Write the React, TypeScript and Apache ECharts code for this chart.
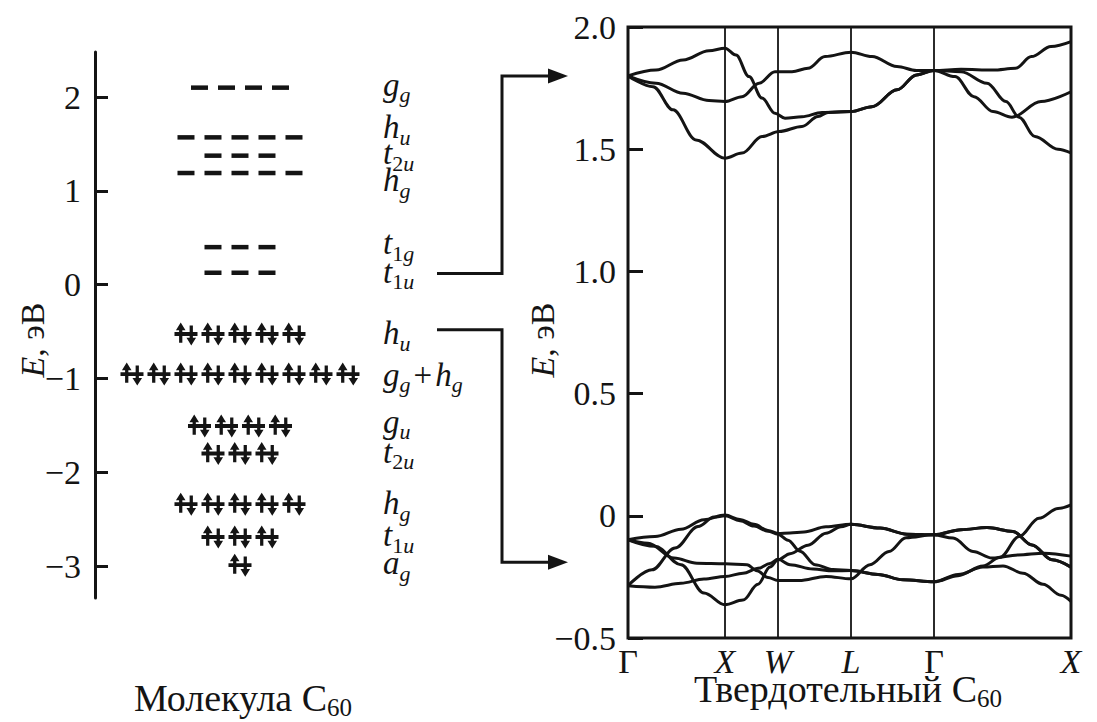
import React, { useEffect, useRef } from 'react';
import * as echarts from 'echarts';

const FONT = 'Liberation Serif, DejaVu Serif, serif';
const INK = '#141414';

// ---------- Molecule C60: energy levels (eV) ----------
const LEVEL_LABELS = ['g_g', 'h_u', 't_2u', 'h_g', 't_1g', 't_1u', 'h_u', 'g_g+h_g', 'g_u', 't_2u', 'h_g', 't_1u', 'a_g'];
const LEVEL_ENERGY = [2.10, 1.57, 1.375, 1.19, 0.40, 0.127, -0.526, -0.953, -1.507, -1.80, -2.34, -2.69, -2.99];
const LEVEL_DEGEN = [4, 5, 3, 5, 3, 3, 5, 9, 4, 3, 5, 3, 1];
const LEVEL_OCCUPIED = [false, false, false, false, false, false, true, true, true, true, true, true, true];
const LEVEL_LABEL_E = [2.13, 1.68, 1.40, 1.115, 0.44, 0.135, -0.52, -0.96, -1.46, -1.78, -2.33, -2.67, -2.97];
const LEFT_TICKS = [-3, -2, -1, 0, 1, 2];

// ---------- Solid C60: band structure ----------
const K_POS = [0, 0.97, 1.50, 2.23, 3.06, 4.43];
const K_LABELS = ['Γ', 'X', 'W', 'L', 'Γ', 'X'];

const CB1 = [[0, 1.80], [0.28, 1.824], [0.55, 1.865], [0.81, 1.903], [0.97, 1.913], [1.08, 1.885], [1.21, 1.797], [1.34, 1.709], [1.47, 1.647], [1.57, 1.627], [1.74, 1.633], [1.94, 1.65], [2.23, 1.654], [2.44, 1.674], [2.69, 1.743], [2.885, 1.804], [3.06, 1.822], [3.27, 1.797], [3.46, 1.715], [3.65, 1.654], [3.84, 1.631], [4.13, 1.695], [4.43, 1.735]];
const CB2 = [[0, 1.80], [0.28, 1.77], [0.55, 1.729], [0.81, 1.699], [0.97, 1.695], [1.14, 1.715], [1.31, 1.77], [1.47, 1.817], [1.64, 1.817], [1.80, 1.831], [1.97, 1.879], [2.23, 1.897], [2.44, 1.879], [2.69, 1.838], [2.885, 1.822], [3.06, 1.822], [3.33, 1.827], [3.65, 1.824], [3.875, 1.831], [4.035, 1.879], [4.23, 1.92], [4.43, 1.94]];
const CB3 = [[0, 1.80], [0.25, 1.756], [0.45, 1.661], [0.68, 1.538], [0.97, 1.463], [1.14, 1.484], [1.34, 1.552], [1.51, 1.572], [1.74, 1.593], [1.90, 1.634], [2.0, 1.65], [2.23, 1.654], [2.44, 1.674], [2.69, 1.743], [2.885, 1.804], [3.06, 1.822], [3.33, 1.817], [3.59, 1.77], [3.78, 1.695], [3.91, 1.631], [4.07, 1.552], [4.30, 1.50], [4.43, 1.485]];

const VB1 = [[0, -0.098], [0.27, -0.085], [0.53, -0.055], [0.76, -0.016], [0.97, 0.003], [1.12, -0.015], [1.26, -0.035], [1.40, -0.06], [1.50, -0.072], [1.62, -0.07], [1.76, -0.066], [1.98, -0.045], [2.23, -0.035], [2.52, -0.05], [2.79, -0.075], [3.06, -0.078], [3.33, -0.057], [3.59, -0.048], [3.85, -0.064], [4.04, -0.119], [4.24, -0.18], [4.43, -0.21]];
const VB2 = [[0, -0.286], [0.24, -0.221], [0.47, -0.132], [0.70, -0.044], [0.86, -0.005], [0.97, 0.0], [1.12, -0.02], [1.26, -0.042], [1.40, -0.063], [1.50, -0.075], [1.60, -0.1], [1.72, -0.145], [1.87, -0.2], [2.05, -0.22], [2.23, -0.224], [2.50, -0.24], [2.75, -0.262], [3.06, -0.27], [3.30, -0.24], [3.55, -0.21], [3.75, -0.205], [3.95, -0.235], [4.15, -0.28], [4.33, -0.325], [4.43, -0.35]];
const VB3 = [[0, -0.098], [0.20, -0.112], [0.46, -0.173], [0.69, -0.194], [0.97, -0.196], [1.19, -0.2], [1.29, -0.225], [1.40, -0.252], [1.50, -0.265], [1.71, -0.265], [1.98, -0.248], [2.23, -0.258], [2.42, -0.2], [2.61, -0.146], [2.78, -0.09], [3.06, -0.078], [3.25, -0.091], [3.45, -0.146], [3.64, -0.173], [3.90, -0.16], [4.16, -0.153], [4.43, -0.165]];
const VB4 = [[0, -0.098], [0.27, -0.125], [0.53, -0.2], [0.76, -0.316], [0.97, -0.364], [1.15, -0.345], [1.30, -0.28], [1.42, -0.21], [1.50, -0.18], [1.62, -0.155], [1.80, -0.12], [1.98, -0.071], [2.13, -0.045], [2.23, -0.035], [2.52, -0.05], [2.79, -0.075], [3.06, -0.078], [3.33, -0.057], [3.59, -0.048], [3.85, -0.064], [4.04, -0.119], [4.24, -0.18], [4.43, -0.21]];
const VB5 = [[0, -0.286], [0.27, -0.292], [0.53, -0.276], [0.76, -0.259], [0.97, -0.248], [1.15, -0.235], [1.30, -0.215], [1.42, -0.195], [1.50, -0.178], [1.62, -0.2], [1.85, -0.218], [2.05, -0.225], [2.23, -0.224], [2.50, -0.24], [2.75, -0.262], [3.06, -0.27], [3.30, -0.245], [3.55, -0.205], [3.72, -0.17], [3.91, -0.085], [4.11, -0.01], [4.30, 0.03], [4.43, 0.045]];
const BANDS = [CB1, CB2, CB3, VB1, VB2, VB3, VB4, VB5];

// connector arrows: molecular level energy -> solid band energy
const CONNECT_FROM_E = [0.12, -0.48];
const CONNECT_TO_E = [1.80, -0.19];

const LABEL_SLOT = 5.3;

const PAIR_PATH = 'path://M0 10H24V14H0Z M6.5 0L11.5 8H8.2V21H4.8V8H1.5Z M15.8 3H19.2V16H22.5L17.5 24L12.5 16H15.8Z';

function richLabel(s: string) {
  return s
    .split('+')
    .map((part) => {
      const [base, sub] = part.split('_');
      let out = `{base|${base}}`;
      for (const ch of sub) out += /\d/.test(ch) ? `{num|${ch}}` : `{sub|${ch}}`;
      return out;
    })
    .join('{plus|+}');
}

const minus = (v: number, digits: number) => {
  const s = v === 0 ? '0' : Math.abs(v).toFixed(digits);
  return v < 0 ? '\u2212' + s : s;
};

export default function App() {
  const ref = useRef<HTMLDivElement>(null);
  useEffect(() => {
    document.body.style.margin = '0';
    const chart = echarts.init(ref.current!, null, { renderer: 'svg' });

    const emptyData: number[][] = [];
    const pairData: number[][] = [];
    LEVEL_ENERGY.forEach((e, i) => {
      const n = LEVEL_DEGEN[i];
      for (let j = 0; j < n; j++) {
        const x = j - (n - 1) / 2;
        (LEVEL_OCCUPIED[i] ? pairData : emptyData).push([x, e]);
      }
    });

    const labelRich = {
      base: { fontSize: 33, fontStyle: 'italic', fontFamily: FONT, fill: INK },
      sub: { fontSize: 22, fontStyle: 'italic', fontFamily: FONT, fill: INK, padding: [20, 0, 0, 0] },
      num: { fontSize: 22, fontStyle: 'normal', fontFamily: FONT, fill: INK, padding: [20, 0, 0, 0] },
      plus: { fontSize: 33, fontStyle: 'normal', fontFamily: FONT, fill: INK, padding: [0, 3, 0, 3] },
    };

    const tickFont = { fontSize: 34, fontFamily: FONT, color: INK };

    const option: any = {
      animation: false,
      backgroundColor: '#ffffff',
      textStyle: { fontFamily: FONT, color: INK },
      grid: [
        { left: 95, top: 52, width: 405, height: 546, show: false },
        { left: 628, top: 27, width: 443, height: 611, show: true, borderColor: INK, borderWidth: 3, backgroundColor: 'transparent' },
      ],
      xAxis: [
        { type: 'value', gridIndex: 0, min: -5.37, max: 9.63, show: false, axisLine: { onZero: false } },
        {
          type: 'value', gridIndex: 1, min: 0, max: 4.43, position: 'bottom',
          axisLine: { show: false, onZero: false }, axisTick: { show: false }, splitLine: { show: false },
          axisLabel: {
            customValues: K_POS,
            margin: 6,
            formatter: (v: number) => {
              const i = K_POS.findIndex((k) => Math.abs(k - v) < 1e-6);
              const t = K_LABELS[i] ?? '';
              return t === 'Γ' ? `{n|${t}}` : `{i|${t}}`;
            },
            rich: {
              n: { fontSize: 34, fontFamily: FONT, color: INK },
              i: { fontSize: 34, fontFamily: FONT, fontStyle: 'italic', color: INK },
            },
          },
        },
      ],
      yAxis: [
        {
          type: 'value', gridIndex: 0, min: -3.34, max: 2.48, position: 'left',
          axisLine: { show: true, onZero: false, lineStyle: { color: INK, width: 3 } },
          axisTick: { show: true, inside: true, length: 13, customValues: LEFT_TICKS, lineStyle: { color: INK, width: 3 } },
          axisLabel: { customValues: LEFT_TICKS, margin: 14, formatter: (v: number) => minus(v, 0), ...tickFont },
          splitLine: { show: false },
        },
        {
          type: 'value', gridIndex: 1, min: -0.5, max: 2.0, interval: 0.5, position: 'left',
          axisLine: { show: false, onZero: false },
          axisTick: { show: true, inside: true, length: 15, lineStyle: { color: INK, width: 3 } },
          axisLabel: { margin: 12, formatter: (v: number) => minus(v, 1), ...tickFont },
          splitLine: { show: false },
        },
      ],
      series: [
        {
          type: 'scatter', xAxisIndex: 0, yAxisIndex: 0, data: emptyData,
          symbol: 'rect', symbolSize: [17, 4.5], itemStyle: { color: INK, opacity: 1 }, silent: true,
        },
        {
          type: 'scatter', xAxisIndex: 0, yAxisIndex: 0, data: pairData,
          symbol: PAIR_PATH, symbolSize: [23, 23], itemStyle: { color: INK, opacity: 1 }, silent: true,
        },
        ...BANDS.map((b, idx) => ({
          type: 'line', xAxisIndex: 1, yAxisIndex: 1, data: b,
          showSymbol: false, smooth: 0.35, smoothMonotone: 'x',
          lineStyle: { color: INK, width: 3 }, silent: true,
          markLine: idx === 0 ? {
            silent: true, symbol: ['none', 'none'],
            label: { show: false },
            lineStyle: { color: INK, width: 1.8, type: 'solid' },
            data: K_POS.slice(1, K_POS.length - 1).map((k) => ({ xAxis: k })),
          } : undefined,
        })),
      ],
    };
    chart.setOption(option);

    // level labels, placed through the left grid's scales
    const levelLabels = LEVEL_LABEL_E.map((e, i) => {
      const [px, py] = chart.convertToPixel({ gridIndex: 0 } as any, [LABEL_SLOT, e]) as unknown as number[];
      return {
        type: 'text', x: px, y: py, silent: true,
        style: { text: richLabel(LEVEL_LABELS[i]), rich: labelRich, align: 'left', verticalAlign: 'middle', fill: INK, fontFamily: FONT },
      };
    });

    const xStart = 437, xCorner = 502, xTip = 568;
    const connectors: any[] = [];
    CONNECT_FROM_E.forEach((e, i) => {
      const y1 = chart.convertToPixel({ yAxisIndex: 0 } as any, e) as unknown as number;
      const y2 = chart.convertToPixel({ yAxisIndex: 1 } as any, CONNECT_TO_E[i]) as unknown as number;
      connectors.push({
        type: 'polyline', silent: true,
        shape: { points: [[xStart, y1], [xCorner, y1], [xCorner, y2], [xTip - 16, y2]] },
        style: { stroke: INK, lineWidth: 3, fill: null },
      });
      connectors.push({
        type: 'polygon', silent: true,
        shape: { points: [[xTip - 20, y2 - 7.5], [xTip, y2], [xTip - 20, y2 + 7.5]] },
        style: { fill: INK },
      });
    });

    const nameRich = {
      i: { fontSize: 34, fontFamily: FONT, fontStyle: 'italic', fill: INK },
      r: { fontSize: 34, fontFamily: FONT, fill: INK },
    };
    const titleRich = {
      r: { fontSize: 38, fontFamily: FONT, fill: INK },
      s: { fontSize: 25, fontFamily: FONT, fill: INK, padding: [18, 0, 0, 0] },
    };

    chart.setOption({
      graphic: [
        ...levelLabels,
        ...connectors,
        {
          type: 'text', x: 32, y: 340, rotation: Math.PI / 2, silent: true,
          style: { text: '{i|E}{r|, эВ}', rich: nameRich, align: 'center', verticalAlign: 'middle', fill: INK, fontFamily: FONT },
        },
        {
          type: 'text', x: 542, y: 340, rotation: Math.PI / 2, silent: true,
          style: { text: '{i|E}{r|, эВ}', rich: nameRich, align: 'center', verticalAlign: 'middle', fill: INK, fontFamily: FONT },
        },
        {
          type: 'text', x: 243, y: 698, silent: true,
          style: { text: '{r|Молекула C}{s|60}', rich: titleRich, align: 'center', verticalAlign: 'middle', fill: INK, fontFamily: FONT },
        },
        {
          type: 'text', x: 848, y: 689, silent: true,
          style: { text: '{r|Твердотельный C}{s|60}', rich: titleRich, align: 'center', verticalAlign: 'middle', fill: INK, fontFamily: FONT },
        },
      ],
    });

    return () => chart.dispose();
  }, []);

  return <div ref={ref} style={{ width: 1097, height: 722, position: 'absolute', left: 0, top: 0 }} />;
}
